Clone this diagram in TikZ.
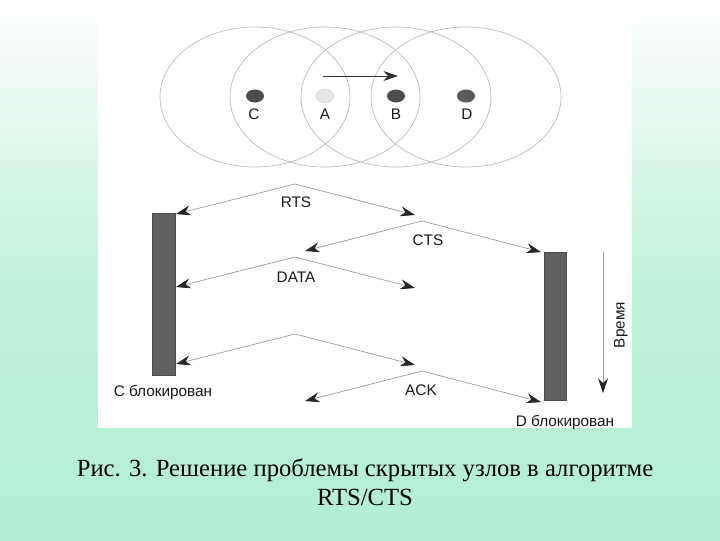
\documentclass[tikz,border=0pt]{standalone}
\usepackage{fontspec}
\setmainfont{Liberation Serif}
\newfontfamily\arial{Liberation Sans}
\usetikzlibrary{arrows.meta}
\definecolor{mint}{HTML}{B2EFD2}
\begin{document}
\begin{tikzpicture}[x=0.75pt,y=-0.75pt,
  msg/.style={draw=gray!80,line width=0.5pt,-{Stealth[length=11pt,width=7.5pt,black!85]}},
  lbl/.style={font=\arial\fontsize{11.5}{13}\selectfont,text=black!90},
  ell/.style={draw=gray!55,line width=0.5pt},
  bar/.style={fill=gray!75!black,draw=gray!60!black,line width=0.4pt}]
\useasboundingbox (0,0) rectangle (720,540);
\shade[top color=white,bottom color=mint,middle color=mint!80] (0,0) rectangle (720,540);
\fill[white] (98,15) rectangle (632,428);
% ellipses
\foreach \cx in {255,325,396,466} \draw[ell] (\cx,97) ellipse [x radius=95,y radius=70];
\fill[gray!60!black] (255,96) ellipse [x radius=9,y radius=6.5];
\fill[gray!20,draw=gray!40] (325,96) ellipse [x radius=9,y radius=6.5];
\fill[gray!60!black] (396,96) ellipse [x radius=9,y radius=6.5];
\fill[gray!70!black] (466,96) ellipse [x radius=9,y radius=6.5];
\node[lbl] (lC) at (254,114) {C};
\node[lbl] (lA) at (325,114) {A};
\node[lbl] (lB) at (396,114) {B};
\node[lbl] (lD) at (467,114) {D};
\coordinate (ma) at (323,76); \coordinate (mb) at (398,76);
\draw[black!80,line width=0.5pt,-{Stealth[length=11pt,width=7.5pt]}] (ma) -- (mb);
% bars
\draw[bar] (152,213) rectangle (175,375);
\draw[bar] (544,252) rectangle (566,400);
% messages
\foreach \px/\py/\lx/\rx in {295/184/176/415, 422/221/305/541, 295/257/176/415, 295/334/176/415, 422/371/305/541}{
  \coordinate (p) at (\px,\py);
  \coordinate (l) at (\lx,\py+30);
  \coordinate (r) at (\rx,\py+31);
  \draw[msg] (p) -- (l);
  \draw[msg] (p) -- (r);
}
\node[lbl] (rts) at (296,202) {RTS};
\node[lbl] (cts) at (428,240) {CTS};
\node[lbl] (data) at (296,277) {DATA};
\node[lbl] (ack) at (421,390) {ACK};
\node[lbl] (cb) at (163,392) {C блокирован};
\node[lbl] (db) at (565,422) {D блокирован};
\coordinate (t1) at (603,252); \coordinate (t2) at (603,393);
\draw[gray!80,line width=0.5pt,-{Stealth[length=11pt,width=7.5pt,black!85]}] (t1) -- (t2);
\node[lbl,rotate=90] (time) at (621,325) {Время};
% caption
\node[font=\fontsize{18.5}{22}\selectfont] (cap1) at (365,470) {Рис. 3. Решение проблемы скрытых узлов в алгоритме};
\node[font=\fontsize{18.5}{22}\selectfont] (cap2) at (365,497) {RTS/CTS};
\end{tikzpicture}
\end{document}
